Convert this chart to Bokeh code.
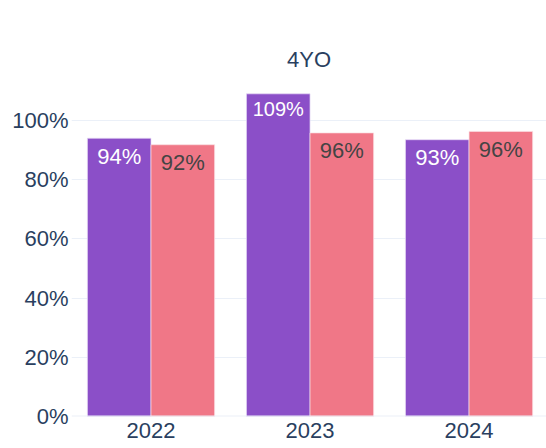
from bokeh.plotting import figure
from bokeh.models import ColumnDataSource, Range1d, FixedTicker, CustomJSTickFormatter
from bokeh.core.properties import value
from bokeh.embed import file_html
from bokeh.resources import INLINE

years = ["2022", "2023", "2024"]
series_a = [94.0, 109.0, 93.5]
series_b = [91.8, 95.8, 96.3]
labels_a = ["94%", "109%", "93%"]
labels_b = ["92%", "96%", "96%"]
y_ticks = [0, 20, 40, 60, 80, 100]

FONT = "Liberation Sans"
TICK_COLOR = "#2a3f5f"
GRID = "#EBF0F8"

xs = list(range(len(years)))
bw = 0.4
src_a = ColumnDataSource(dict(x=[i - 0.2 for i in xs], top=series_a, lab=labels_a,
                              fs=["22px" if len(l) < 4 else "20px" for l in labels_a],
                              off=[18 if len(l) < 4 else 15 for l in labels_a]))
src_b = ColumnDataSource(dict(x=[i + 0.2 for i in xs], top=series_b, lab=labels_b,
                              fs=["22px" for l in labels_b], off=[18 for l in labels_b]))

p = figure(width=546, height=448, output_backend="svg", toolbar_location=None,
           x_range=Range1d(-0.5, 2.487), y_range=Range1d(0, 113.5),
           min_border_left=71, min_border_right=0, min_border_top=80, min_border_bottom=32)
p.title.text = "4YO"
p.title.align = "center"
p.title.text_font = FONT
p.title.text_font_size = "22px"
p.title.text_font_style = "normal"
p.title.text_color = TICK_COLOR
p.title.standoff = 17
p.outline_line_color = None

p.vbar(x="x", top="top", width=bw, bottom=0, source=src_a, fill_color="#8B4FC8",
       line_color="#E8DDF5", line_width=0.7)
p.vbar(x="x", top="top", width=bw, bottom=0, source=src_b, fill_color="#F07787",
       line_color="#FBE0E4", line_width=0.7)

p.text(x="x", y="top", text="lab", source=src_a, text_align="center", text_baseline="middle",
       y_offset="off", text_font=value(FONT), text_font_size="fs", text_color="white")
p.text(x="x", y="top", text="lab", source=src_b, text_align="center", text_baseline="middle",
       y_offset="off", text_font=value(FONT), text_font_size="fs", text_color="#444444")

p.xaxis.ticker = FixedTicker(ticks=xs)
p.xaxis.major_label_overrides = {i: y for i, y in zip(xs, years)}
p.yaxis.ticker = FixedTicker(ticks=y_ticks)
p.yaxis.formatter = CustomJSTickFormatter(code="return tick + '%';")
for ax in (p.xaxis[0], p.yaxis[0]):
    ax.axis_line_color = None
    ax.major_tick_line_color = None
    ax.minor_tick_line_color = None
    ax.major_tick_out = 0
    ax.major_tick_in = 0
    ax.minor_tick_out = 0
    ax.minor_tick_in = 0
    ax.major_label_text_font = FONT
    ax.major_label_text_font_size = "22px"
    ax.major_label_text_color = TICK_COLOR
p.xaxis.major_label_standoff = 6
p.yaxis.major_label_standoff = 3

p.xgrid.grid_line_color = None
p.ygrid.grid_line_color = GRID
p.ygrid.grid_line_width = 1
p.hspan(y=[0], line_color=GRID, line_width=2)

open("out.html", "w").write(file_html(p, INLINE))
